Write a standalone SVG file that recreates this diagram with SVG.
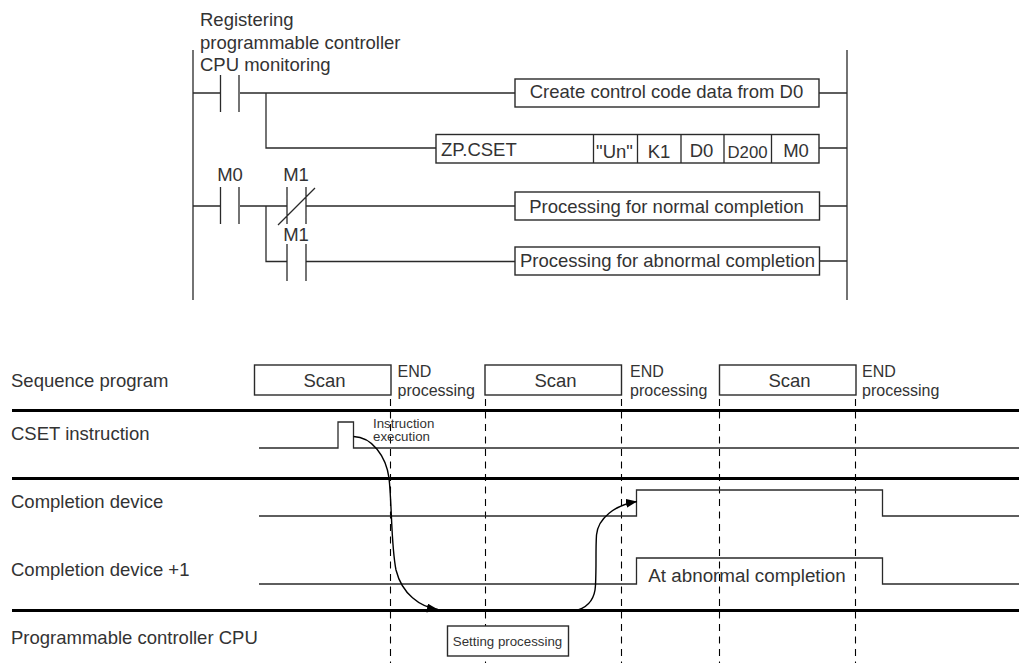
<svg xmlns="http://www.w3.org/2000/svg" width="1019" height="663" viewBox="0 0 1019 663">
<defs>
<style>
text{font-family:"Liberation Sans",Arial,sans-serif;font-size:18.5px;fill:#333}
.m{text-anchor:middle}
.s{font-size:13.3px}
.e{font-size:16px}
.w{fill:none;stroke:#2a2a2a;stroke-width:1.3}
.b{fill:#fff;stroke:#2a2a2a;stroke-width:1.4}
.t{fill:none;stroke:#000;stroke-width:3}
.d{fill:none;stroke:#000;stroke-width:1.1;stroke-dasharray:7 5.5}
.c{fill:none;stroke:#000;stroke-width:1.4}
</style>
<marker id="a" markerUnits="userSpaceOnUse" markerWidth="12" markerHeight="10" refX="11" refY="4.5" orient="auto"><path d="M0 0L11 4.5L0 9Z" fill="#000"/></marker>
</defs>
<rect width="1019" height="663" fill="#fff"/>
<g id="connectors">
<path class="w" d="M193 50V300M847 50V300"/>
<path class="w" d="M193 93H220M240 93H515M819 93H847M266 93V148H436M819 148H847"/>
<path class="w" d="M193 206H220M240 206H287M306 206H515M819 206H847M266 206V261.500H287M306 261.500H515M819 261H847"/>
<path class="w" d="M220.500 75V112M239 75V112M220.500 187V224M239 187V224M287 187V224M306 187V224M278 225L315 188M287 244V281M306 244V281"/>
</g>
<g id="label-registering"><text x="200" y="26">Registering</text><text x="200" y="49">programmable controller</text><text x="200" y="71">CPU monitoring</text></g>
<g id="node-create"><rect class="b" x="515" y="79" width="304" height="28"/><text class="m" x="666.500" y="98">Create control code data from D0</text></g>
<g id="node-cset"><rect class="b" x="436" y="134.500" width="383" height="28.500"/><path class="w" d="M593.500 134.500V163M637.500 134.500V163M681 134.500V163M724 134.500V163M771.500 134.500V163"/><text x="441" y="155.500">ZP.CSET</text><text class="m" x="614.500" y="157.500">"Un"</text><text class="m" x="659" y="157.500">K1</text><text class="m" x="701.500" y="156.500">D0</text><text class="m" x="747.500" y="158" style="font-size:16.800px">D200</text><text class="m" x="796" y="157">M0</text></g>
<g id="node-normal"><rect class="b" x="515" y="192" width="304.500" height="28"/><text class="m" x="666.500" y="212.500">Processing for normal completion</text></g>
<g id="node-abnormal"><rect class="b" x="515" y="247" width="304.500" height="28"/><text class="m" x="667.500" y="267">Processing for abnormal completion</text></g>
<g id="labels-contacts"><text class="m" x="230" y="181">M0</text><text class="m" x="296" y="181">M1</text><text class="m" x="296" y="241">M1</text></g>
<g id="timing-rows">
<path class="t" d="M12 410.500H1019M12 478.500H1019M12 610.500H1019"/>
<path class="d" d="M390.500 399V663M485.500 399V663M621.500 399V663M719.500 399V663M855.500 399V663"/>
<path class="w" d="M259 448H338V422H353.500V448H1019"/>
<path class="w" d="M259 516H636.500V490H882.500V516H1019"/>
<path class="w" d="M259 584H636.500V558H882.500V584H1019"/>
</g>
<g id="row-labels"><text x="11" y="387">Sequence program</text><text x="11" y="440">CSET instruction</text><text x="11" y="507.500">Completion device</text><text x="11" y="576">Completion device +1</text><text x="11" y="644">Programmable controller CPU</text></g>
<g id="scan-1"><rect class="b" x="254.500" y="365" width="136.500" height="30"/><text class="m" x="324.500" y="387">Scan</text></g>
<g id="scan-2"><rect class="b" x="485" y="365" width="136.500" height="30"/><text class="m" x="555.500" y="387">Scan</text></g>
<g id="scan-3"><rect class="b" x="719.500" y="365" width="136.500" height="30"/><text class="m" x="789.500" y="387">Scan</text></g>
<g id="end-labels"><text class="e" x="397.500" y="377">END</text><text class="e" x="397.500" y="396">processing</text><text class="e" x="630" y="377">END</text><text class="e" x="630" y="396">processing</text><text class="e" x="862" y="377">END</text><text class="e" x="862" y="396">processing</text></g>
<g id="label-exec"><text class="s" x="373" y="428">Instruction</text><text class="s" x="373" y="441">execution</text></g>
<g id="node-setting"><rect class="b" x="447.500" y="626" width="121" height="30"/><text class="m s" x="507.500" y="645.500">Setting processing</text></g>
<g id="label-abnormal"><text class="m" x="747" y="581.500" style="font-size:18.800px">At abnormal completion</text></g>
<g id="curves">
<path class="c" marker-end="url(#a)" d="M353.500 436.500C372 437 386 456 389 478C392 505 391 545 396 570C402 594 420 607 438 609.500"/>
<path class="c" marker-end="url(#a)" d="M578 610C590 606 595 598 595.500 585C596.500 565 595.500 550 596.500 535C598 518 615 505 637 501.500"/>
</g>
</svg>
